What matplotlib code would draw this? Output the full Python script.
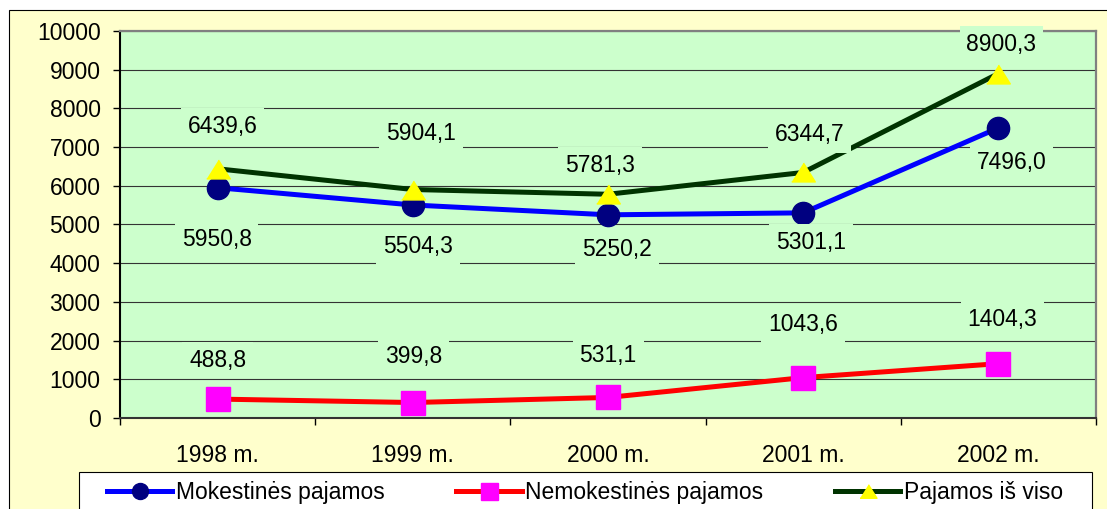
import matplotlib
matplotlib.use("Agg")
import matplotlib.pyplot as plt
from matplotlib.patches import Rectangle

plt.rcParams['font.family'] = ['Liberation Sans', 'DejaVu Sans']

# Data
metai = ['1998 m.', '1999 m.', '2000 m.', '2001 m.', '2002 m.']
mokestines = [5950.8, 5504.3, 5250.2, 5301.1, 7496.0]
nemokestines = [488.8, 399.8, 531.1, 1043.6, 1404.3]
pajamos_is_viso = [6439.6, 5904.1, 5781.3, 6344.7, 8900.3]

# label offsets in pixels (dx, dy) from each marker
off_mok = [(-1, -52), (5, -42), (9, -35), (8, -30), (13, -35)]
off_nemok = [(0, 39), (1, 46), (0, 42), (0, 53), (4, 44)]
off_viso = [(5, 42), (8, 56), (-8, 29), (6, 38), (3, 29)]

W, H = 1107, 509
fig = plt.figure(figsize=(W / 100, H / 100), dpi=100, facecolor='white')

# chart area background
fig.patches.append(Rectangle((9 / W, -0.1), 1.2, 1 - 10 / H + 0.1,
                             transform=fig.transFigure, facecolor='#FFFFCC',
                             edgecolor='black', linewidth=0.8, zorder=0.5))

ax = fig.add_axes([120 / W, 1 - 418 / H, 976 / W, 387 / H])
ax.set_zorder(3)
ax.set_facecolor('#CCFFCC')

x = list(range(len(metai)))
fs = 16.5

ax.plot(x, mokestines, color='#0000FF', lw=3.6, marker='o', ms=16,
        mfc='#000080', mec='#000080', zorder=3, label='Mokestinės pajamos')
ax.plot(x, nemokestines, color='#FF0000', lw=3.6, marker='s', ms=17,
        mfc='#FF00FF', mec='#FF00FF', zorder=4, label='Nemokestinės pajamos')
tri = [(-1, -0.8), (1, -0.8), (0, 0.8)]
ax.plot(x, pajamos_is_viso, color='#003300', lw=3.6, marker=tri, ms=17,
        mfc='#FFFF00', mec='#FFFF00', zorder=5, label='Pajamos iš viso')


def fmt(v):
    return f"{v:.1f}".replace('.', ',')


for series, offs in ((mokestines, off_mok), (nemokestines, off_nemok),
                     (pajamos_is_viso, off_viso)):
    for xi, v, (dx, dy) in zip(x, series, offs):
        ax.annotate(fmt(v), (xi, v), xytext=(dx, dy), textcoords='offset pixels',
                    ha='center', va='center', fontsize=fs, zorder=10,
                    bbox=dict(boxstyle='square,pad=0.3', fc='#CCFFCC', ec='none'),
                    annotation_clip=False)

ax.set_xlim(-0.5, len(metai) - 0.5)
ax.set_ylim(0, 10000)
ax.set_yticks(range(0, 10001, 1000))
ax.tick_params(axis='y', labelsize=fs, length=5, width=1, pad=9, direction='out')
ax.yaxis.grid(True, color='#333333', lw=0.8)
ax.set_axisbelow(True)

ax.set_xticks([i - 0.5 for i in range(len(metai) + 1)])
ax.set_xticklabels([])
ax.set_xticks(x, minor=True)
ax.set_xticklabels(metai, minor=True)
ax.tick_params(axis='x', which='major', length=5, width=1, direction='out')
ax.tick_params(axis='x', which='minor', length=0, labelsize=fs, pad=19)

for s in ('top', 'right'):
    ax.spines[s].set_color('#808080')
    ax.spines[s].set_linewidth(1.6)
ax.spines['left'].set_color('black')
ax.spines['left'].set_linewidth(1.5)
ax.spines['bottom'].set_color('#333333')
ax.spines['bottom'].set_linewidth(1.5)

# legend box
fig.patches.append(Rectangle((79 / W, -0.2), 1013 / W, 0.2 + 1 - 472 / H,
                             transform=fig.transFigure, facecolor='white',
                             edgecolor='black', linewidth=0.8, zorder=1))
handles, labels = ax.get_legend_handles_labels()
yc = 1 - 493 / H
leg = fig.legend(handles, labels, loc='center', ncol=3, mode='expand',
                 bbox_to_anchor=(107 / W, yc - 0.01, (1063 - 107) / W, 0.02),
                 frameon=False, borderpad=0, borderaxespad=0, fontsize=fs,
                 handlelength=2.85, handletextpad=0.15, markerscale=0.72)
leg.set_zorder(2)

fig.savefig('out.png', dpi=100, facecolor='white')
